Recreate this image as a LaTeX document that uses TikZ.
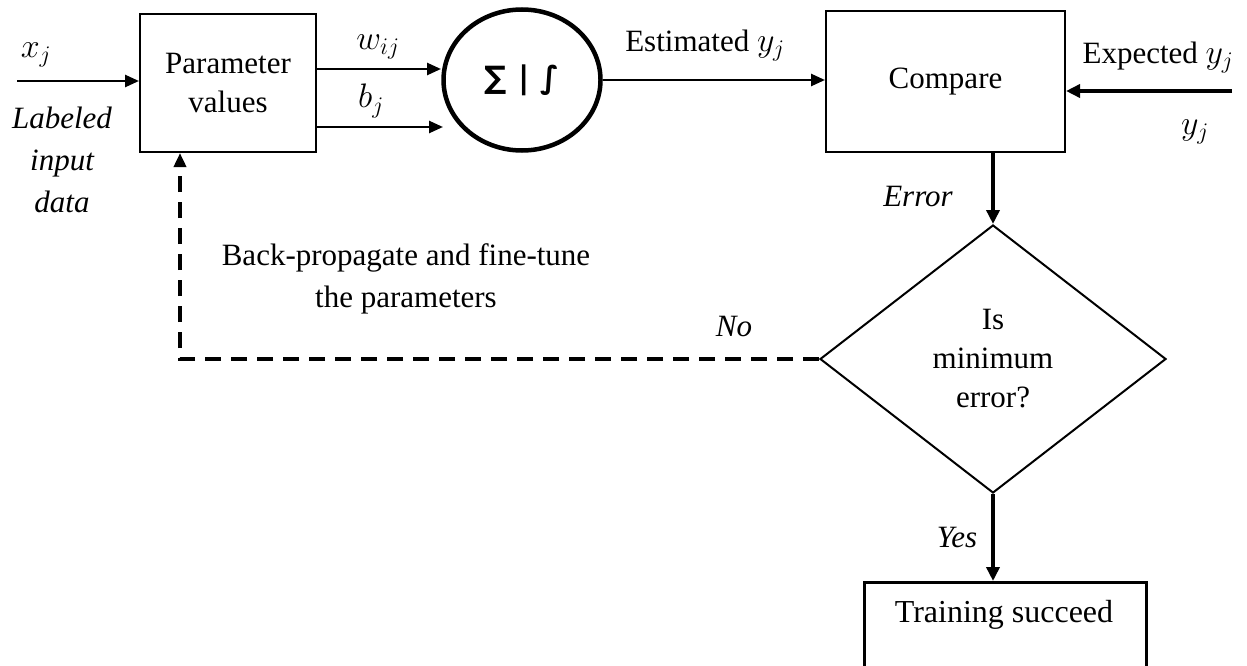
\RequirePackage{fix-cm}
\documentclass[tikz,border=0pt]{standalone}
\usepackage{fontspec}
\setmainfont{Liberation Serif}
\newfontfamily\symfont{DejaVu Sans}
\usetikzlibrary{shapes.geometric,arrows.meta}

\begin{document}
\begin{tikzpicture}[x=1pt,y=-1pt,
  font=\fontsize{31}{39}\selectfont,
  box/.style={draw, line width=2pt, inner sep=0pt},
  lab/.style={inner sep=0pt},
  mlab/.style={inner sep=0pt, font=\fontsize{34}{40}\selectfont},
  itlab/.style={inner sep=0pt, font=\fontsize{31}{39}\selectfont\itshape},
  arr/.style={line width=2.5pt, -{Triangle[length=14pt,width=12pt]}},
  thickarr/.style={line width=4pt, -{Triangle[length=14pt,width=13pt]}},
  backarr/.style={line width=3.5pt, dash pattern=on 16pt off 10pt,
                  -{Triangle[length=14pt,width=12pt]}}]
\useasboundingbox (0,0) rectangle (1247,666);

% blocks
\node[box, minimum width=176pt, minimum height=138pt, align=center] (param) at (228,83) {Parameter\\values};
\node[draw, ellipse, line width=4.5pt, minimum width=157pt, minimum height=141pt, inner sep=0pt] (sum) at (522,80) {\raisebox{5pt}{\symfont\bfseries ∑ | ∫}};
\node[box, minimum width=239pt, minimum height=141pt] (cmp) at (945.5,81.5) {Compare};
\node[draw, diamond, line width=2pt, minimum width=346pt, minimum height=268pt, inner sep=0pt, align=center] (dec) at (993,359) {Is\\minimum\\error?};
\node[box, line width=2.5pt, minimum width=282pt, minimum height=87pt, anchor=north west] (train) at (863,581) {};
\node[lab, font=\fontsize{32}{39}\selectfont] (traintxt) at (1004,615) {Training succeed};

% labels
\node[mlab] (xj) at (36,55) {$x_j$};
\node[lab, align=center, font=\fontsize{31}{42}\selectfont\itshape] (labin) at (62,160) {Labeled\\input\\data};
\node[mlab] (wij) at (378,47) {$w_{ij}$};
\node[mlab] (bj) at (371,101) {$b_j$};
\node[lab] (est) at (705,46) {Estimated {\fontsize{34}{40}\selectfont$y_j$}};
\node[lab] (exp) at (1158,58) {Expected {\fontsize{34}{40}\selectfont$y_j$}};
\node[mlab] (yj) at (1195,132) {$y_j$};
\node[itlab] (err) at (918,197) {Error};
\node[lab, align=center, font=\fontsize{31}{42}\selectfont] (bp) at (406,279) {Back-propagate and fine-tune\\the parameters};
\node[itlab] (no) at (734,326) {No};
\node[itlab] (yes) at (957,537) {Yes};

% connectors
\coordinate (xin) at (17,81);
\coordinate (wend) at (441,69);
\coordinate (bend) at (443,127);
\coordinate (expin) at (1232,91);
\coordinate (corner) at (180,359);

\draw[arr] (xin) -- (xin -| param.west);
\draw[arr] (param.east |- wend) -- (wend);
\draw[arr] (param.east |- bend) -- (bend);
\draw[arr] (sum.east) -- (sum.east -| cmp.west);
\draw[thickarr] (expin) -- (expin -| cmp.east);
\draw[thickarr] (cmp.south -| dec.north) -- (dec.north);
\draw[thickarr] (dec.south) -- (dec.south |- train.north);
\draw[backarr] (dec.west) -- (corner) -- (corner |- param.south);
\end{tikzpicture}
\end{document}
